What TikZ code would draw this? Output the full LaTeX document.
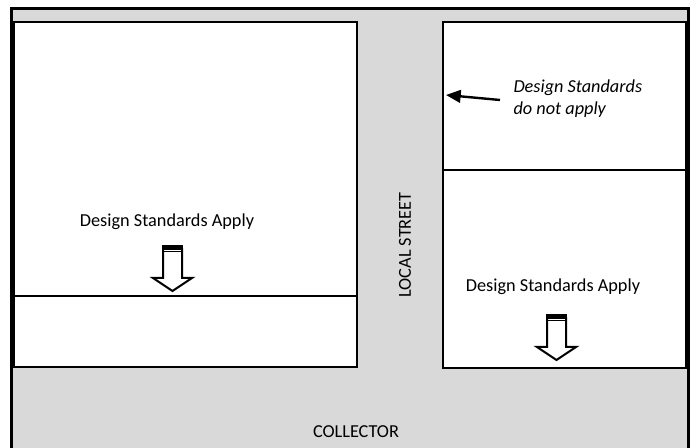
\documentclass[tikz,border=0pt]{standalone}
\usepackage{fontspec}
\setmainfont{Carlito}
\usetikzlibrary{arrows.meta}

\tikzset{every picture/.style={line width=0.75pt}}
\tikzset{
  lot/.style={line width=1.5, fill=white},
  blockarrow/.style={line width=1.5, fill=white, line join=miter},
  label/.style={inner sep=0.75pt, font=\fontsize{13.7}{16.5}\selectfont},
}

\begin{document}
\begin{tikzpicture}[x=0.75pt,y=0.75pt,yscale=-1,xscale=1]
\useasboundingbox (0,0) rectangle (694,448);
\clip (0,0) rectangle (694,448);

%Shape: Rectangle [street area]
\draw [line width=2.25, fill={rgb, 255:red, 217; green, 217; blue, 217 }] (11.5,9) -- (688.5,9) -- (688.5,470) -- (11.5,470) -- cycle ;
%Shape: Rectangle [left lot]
\draw [lot] (14,22) -- (357,22) -- (357,367) -- (14,367) -- cycle ;
%Straight Lines [left lot split]
\draw [line width=1.5] (14,296) -- (357,296) ;
%Shape: Rectangle [right lot]
\draw [lot] (443,22) -- (686,22) -- (686,368) -- (443,368) -- cycle ;
%Straight Lines [right lot split]
\draw [line width=1.5] (443,170) -- (686,170) ;

%Shape: Down Arrow [left]
\draw [blockarrow] (163,249) -- (182,249) -- (182,278) -- (192,278) -- (172.5,291) -- (153,278) -- (163,278) -- cycle ;
\fill (162.3,245.5) rectangle (182.7,249) ;
\draw [line width=0.9] (163,251.8) -- (182,251.8) ;
%Shape: Down Arrow [right]
\draw [blockarrow] (547,318) -- (566,318) -- (566,347) -- (576,347) -- (556.5,360) -- (537,347) -- (547,347) -- cycle ;
\fill (546.3,314.5) rectangle (566.7,318) ;
\draw [line width=0.9] (547,320.8) -- (566,320.8) ;

% Text Node
\node (applyL) [label] at (167,222) {Design Standards Apply};
% Text Node
\node (applyR) [label] at (553,287) {Design Standards Apply};
% Text Node
\node (local) [label, rotate=90] at (405,245) {LOCAL STREET};
% Text Node
\node (collector) [label] at (356,432) {COLLECTOR};
% Text Node
\node (noapply) [label, anchor=west, align=left, font=\fontsize{13.7}{16.5}\selectfont\itshape] at (512,99) {Design Standards\\do not apply};

%Straight Lines [pointer to street edge]
\coordinate (ptail) at (500,100);
\coordinate (phead) at (446,95);
\draw [line width=1.8, -{Triangle[length=11pt, width=9.5pt]}] (ptail) -- (phead) ;

\end{tikzpicture}
\end{document}
